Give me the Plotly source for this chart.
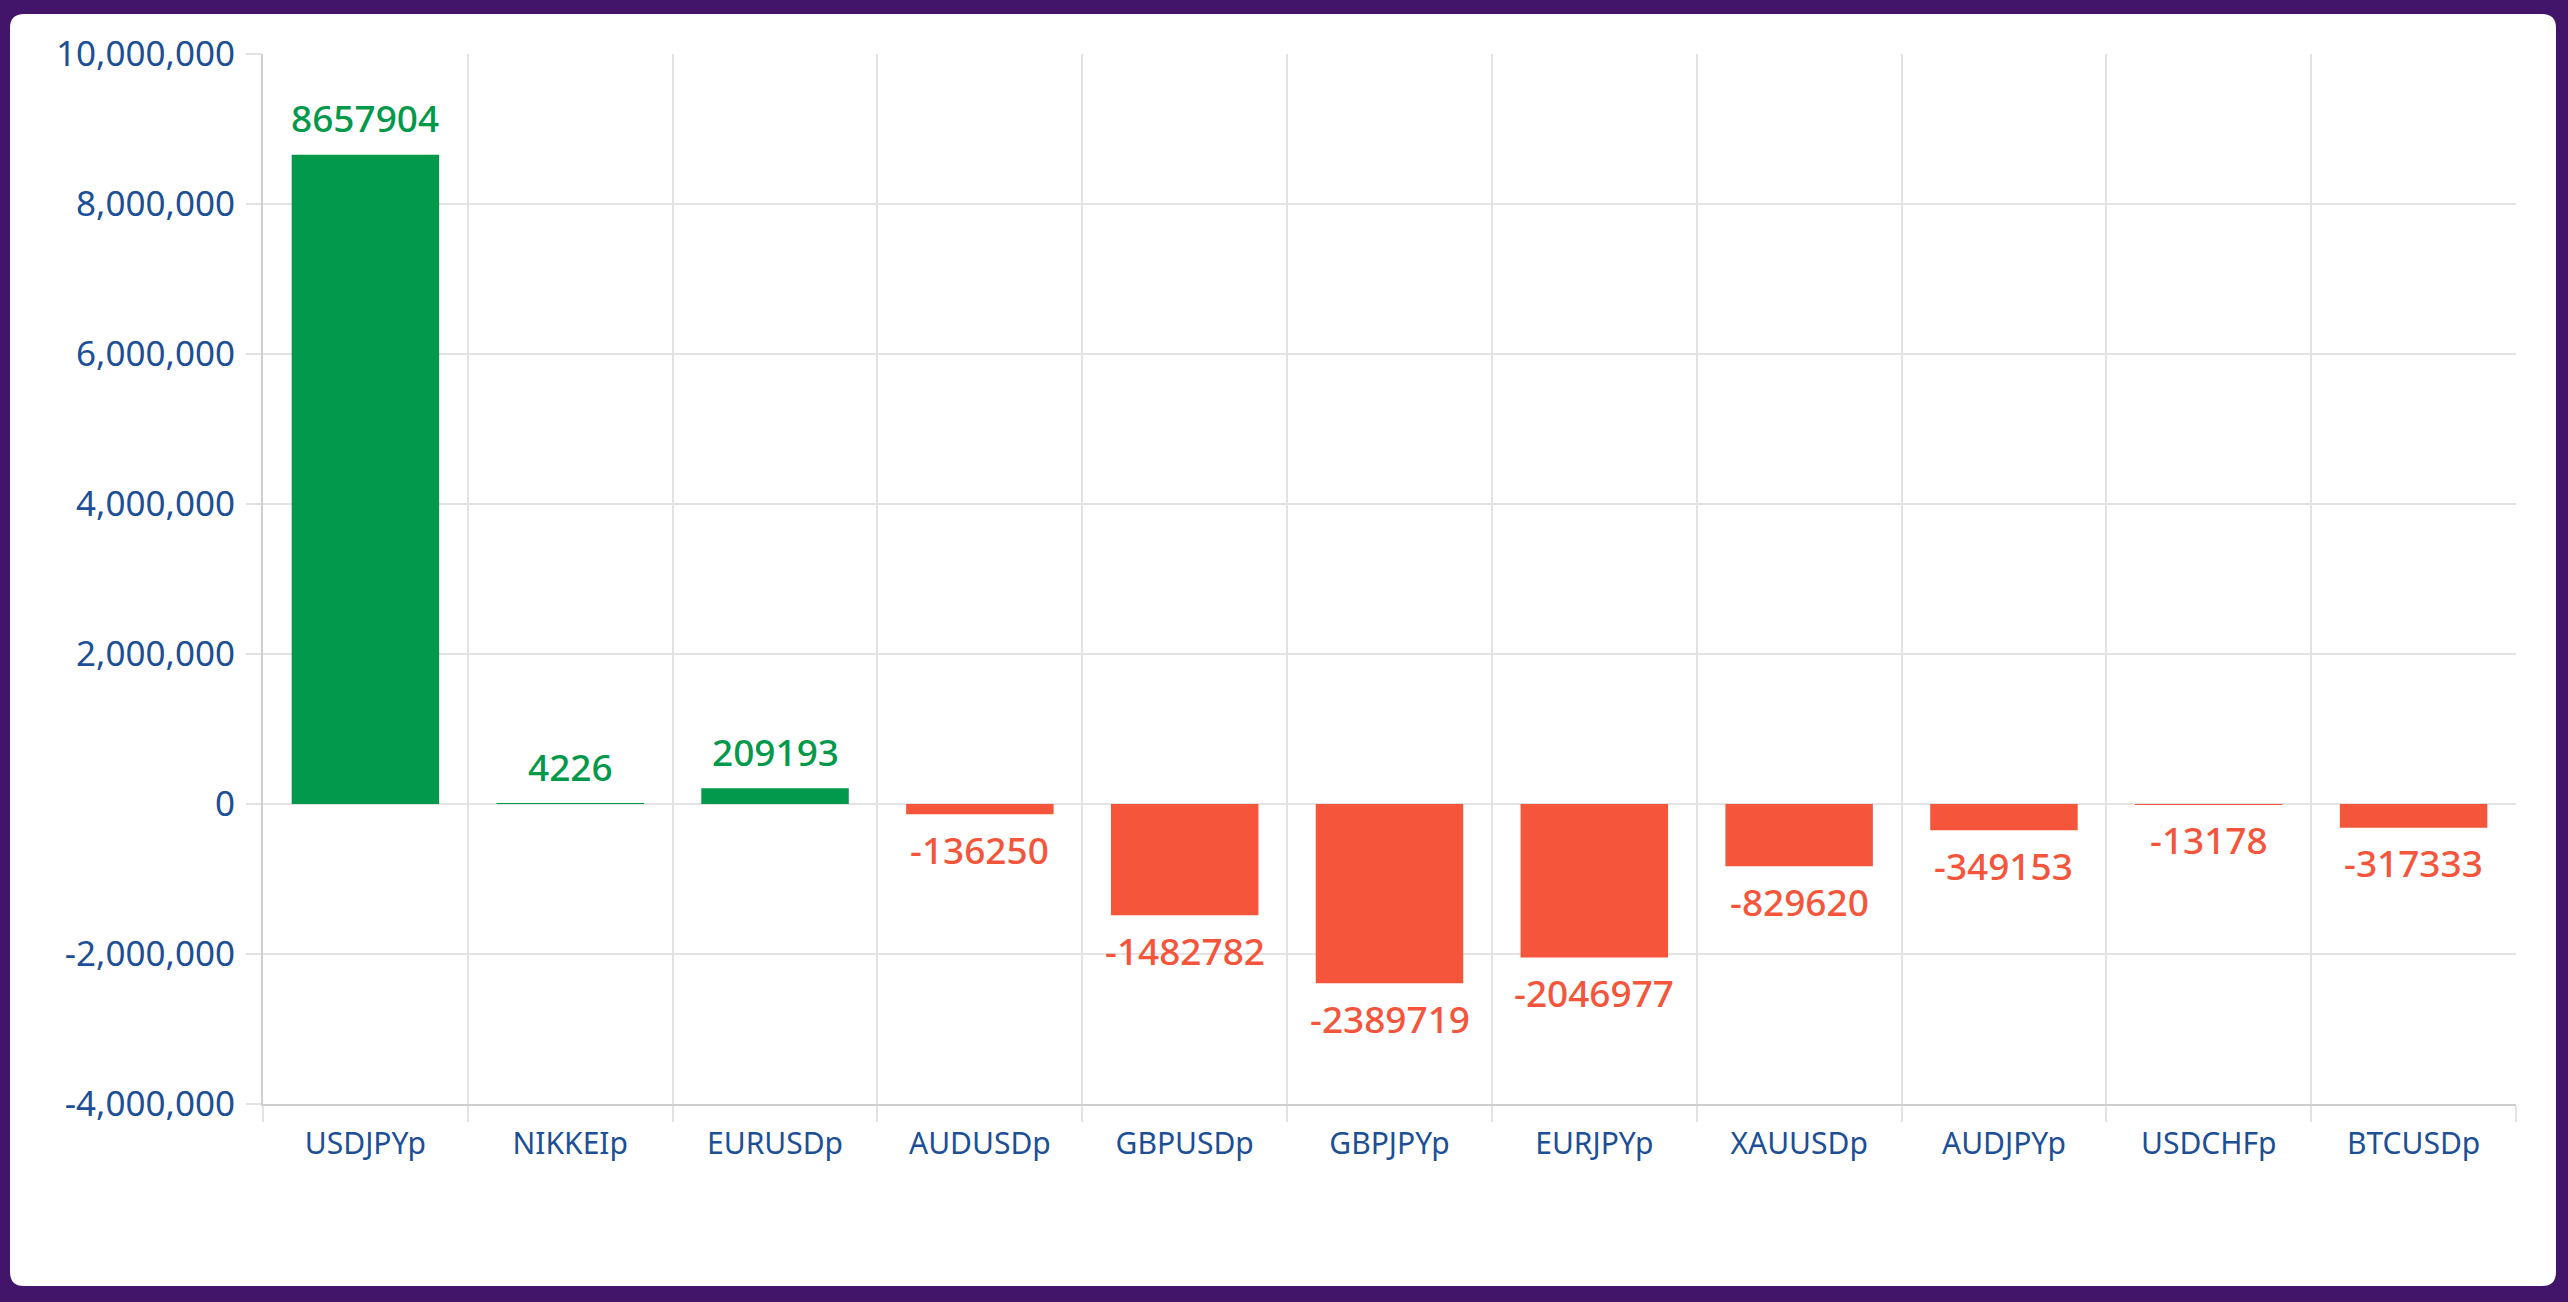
import plotly.graph_objects as go

# --- DATA ---
symbols = ["USDJPYp", "NIKKEIp", "EURUSDp", "AUDUSDp", "GBPUSDp", "GBPJPYp",
           "EURJPYp", "XAUUSDp", "AUDJPYp", "USDCHFp", "BTCUSDp"]
profits = [8657904, 4226, 209193, -136250, -1482782, -2389719,
           -2046977, -829620, -349153, -13178, -317333]
y_ticks = [-4000000, -2000000, 0, 2000000, 4000000, 6000000, 8000000, 10000000]

# --- STYLE ---
W, H = 2568, 1302
ML, MR, MT, MB = 263, 52, 54, 198
GREEN = "#03994a"
RED = "#f5553b"
BLUE = "#1c4f96"
GRID = "#e3e3e3"
BORDER = "#42146a"

pw, ph = W - ML - MR, H - MT - MB


def px(x):
    return (x - ML) / pw


def py_(y):
    return (H - MB - y) / ph


def card_path(x0, y0, x1, y1, r):
    # rounded rectangle in paper coords, built from pixel corners
    pts = [
        f"M {px(x0 + r)},{py_(y0)}",
        f"L {px(x1 - r)},{py_(y0)}",
        f"Q {px(x1)},{py_(y0)} {px(x1)},{py_(y0 + r)}",
        f"L {px(x1)},{py_(y1 - r)}",
        f"Q {px(x1)},{py_(y1)} {px(x1 - r)},{py_(y1)}",
        f"L {px(x0 + r)},{py_(y1)}",
        f"Q {px(x0)},{py_(y1)} {px(x0)},{py_(y1 - r)}",
        f"L {px(x0)},{py_(y0 + r)}",
        f"Q {px(x0)},{py_(y0)} {px(x0 + r)},{py_(y0)}",
        "Z",
    ]
    return " ".join(pts)


colors = [GREEN if v >= 0 else RED for v in profits]

fig = go.Figure(go.Bar(
    x=symbols, y=profits,
    marker=dict(color=colors, line=dict(width=0)),
    width=0.72,
    hoverinfo="x+y",
))

# value labels above / below each bar
for s, v, c in zip(symbols, profits, colors):
    fig.add_annotation(
        x=s, y=v, text=str(v), showarrow=False,
        yanchor="middle", yshift=37 if v >= 0 else -35,
        font=dict(family="Noto Sans", size=37, color=c, weight=500),
    )

fig.add_shape(type="path", xref="paper", yref="paper",
              path=card_path(10, 14, 2556, 1286, 14),
              fillcolor="white", line=dict(width=0), layer="below")

fig.update_layout(
    width=W, height=H,
    margin=dict(l=ML, r=MR, t=MT, b=MB),
    paper_bgcolor=BORDER,
    plot_bgcolor="white",
    showlegend=False,
    bargap=0.28,
    font=dict(family="Noto Sans", color=BLUE),
    xaxis=dict(
        type="category",
        tickson="boundaries",
        showgrid=True, gridcolor=GRID, gridwidth=2,
        ticks="outside", ticklen=16, tickwidth=2, tickcolor=GRID,
        showline=True, linecolor="#cfcfcf", linewidth=2,
        tickfont=dict(size=30, color=BLUE),
        ticklabelstandoff=12,
    ),
    yaxis=dict(
        range=[-4000000, 10000000],
        tickvals=y_ticks,
        ticktext=[f"{v:,}" for v in y_ticks],
        showgrid=True, gridcolor=GRID, gridwidth=2,
        zeroline=False,
        ticks="outside", ticklen=15, tickwidth=2, tickcolor=GRID,
        showline=True, linecolor="#cfcfcf", linewidth=2,
        tickfont=dict(size=35, color=BLUE),
        ticklabelstandoff=4,
    ),
)

# drop the default page margin so the figure fills the window
fig.write_html(
    "out.html",
    config={"displayModeBar": False},
    post_script="document.body.style.margin='0';"
                "document.body.style.background='%s';" % BORDER,
)
